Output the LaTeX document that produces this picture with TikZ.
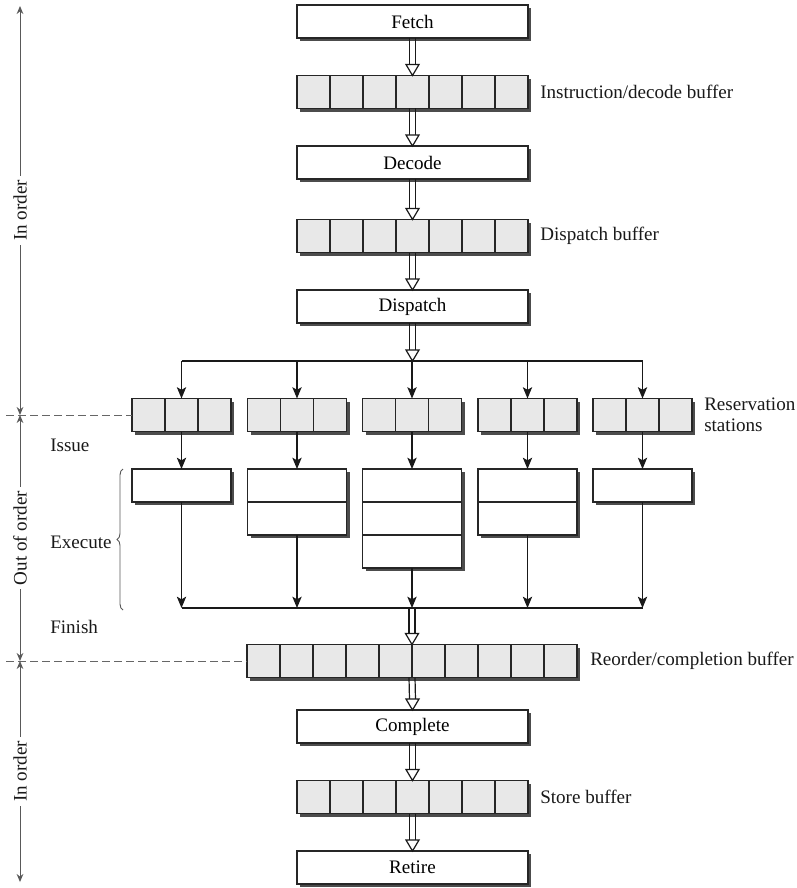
\documentclass[tikz,border=0pt]{standalone}
\usepackage{fontspec}
\setmainfont{Liberation Serif}
\usetikzlibrary{arrows.meta,calc,shadows,decorations.pathreplacing}

% one drawing unit
\newcommand\pxu{0.75pt}

% vertical cell dividers of a buffer node: \cellsplit{node}{cells}
\newcommand\cellsplit[2]{%
  \pgfmathtruncatemacro\lastcut{#2-1}%
  \foreach \k in {1,...,\lastcut}{%
    \pgfmathsetmacro\cutpos{\k/#2}%
    \draw[divider] ($(#1.north west)!\cutpos!(#1.north east)$) -- ($(#1.south west)!\cutpos!(#1.south east)$);
  }%
}
% horizontal row dividers of an execution unit: \rowsplit{node}{rows}
\newcommand\rowsplit[2]{%
  \pgfmathtruncatemacro\lastcut{#2-1}%
  \foreach \k in {1,...,\lastcut}{%
    \pgfmathsetmacro\cutpos{\k/#2}%
    \draw[divider] ($(#1.north west)!\cutpos!(#1.south west)$) -- ($(#1.north east)!\cutpos!(#1.south east)$);
  }%
}
% double-shafted arrow with an open head: \hollowarrow{(from)}{(to)}
\newcommand\hollowarrow[2]{%
  \draw[hollowline] ($#1+(-3,0)$) -- ($#2+(-3,-10)$);
  \draw[hollowline] ($#1+(3,0)$) -- ($#2+(3,-10)$);
  \draw[hollowline, fill=white, line join=miter] ($#2+(-6.5,-11)$) -- #2 -- ($#2+(6.5,-11)$) -- cycle;
}

\tikzset{
  unit/.style={draw=black!85, line width=1pt, inner sep=0pt, outer sep=0pt,
    drop shadow={shadow xshift=2.6pt, shadow yshift=-2.6pt, fill=black!70, opacity=1}},
  stage/.style={unit, fill=white, minimum width=231*\pxu, minimum height=33*\pxu},
  buffer/.style={unit, fill=black!9, minimum height=33*\pxu},
  execbox/.style={unit, fill=white, minimum width=99*\pxu},
  divider/.style={draw=black!85, line width=1pt},
  flow/.style={draw=black!90, line width=0.9pt, -{Stealth[length=8.5pt,width=7pt,inset=2pt]}},
  hollowline/.style={draw=black!90, line width=0.9pt},
  phasespan/.style={draw=black!65, line width=0.75pt,
    {Stealth[length=6pt,width=5pt]}-{Stealth[length=6pt,width=5pt]}},
  phaseline/.style={draw=black!60, line width=0.75pt, dash pattern=on 6pt off 3pt},
  lbl/.style={anchor=west, inner sep=0pt, text=black!90},
  phasetext/.style={midway, fill=white, rotate=90, inner sep=3pt, text=black!90},
}

\begin{document}
\begin{tikzpicture}[x=0.75pt, y=-0.75pt, font=\fontsize{14.3pt}{15.8pt}\selectfont]
\useasboundingbox (0,0) rectangle (796,888);

% ---- front end (in order) ----
\node[stage] (fetch) at (412.5,21.5) {Fetch};
\node[buffer, minimum width=231*\pxu] (idb) at (412.5,92) {};
\node[stage] (decode) at (412.5,162.5) {Decode};
\node[buffer, minimum width=231*\pxu] (dsb) at (412.5,236) {};
\node[stage] (dispatch) at (412.5,306.5) {Dispatch};
\cellsplit{idb}{7}
\cellsplit{dsb}{7}

% ---- reservation stations and execution units ----
\foreach \i/\x in {1/181.5, 2/297, 3/412, 4/527.5, 5/642.5}{
  \node[buffer, minimum width=99*\pxu] (rs\i) at (\x,415) {};
  \cellsplit{rs\i}{3}
}
\node[execbox, minimum height=33*\pxu] (ex1) at (181.5,485.5) {};
\node[execbox, minimum height=66*\pxu] (ex2) at (297,502) {};
\node[execbox, minimum height=99*\pxu] (ex3) at (412,518.5) {};
\node[execbox, minimum height=66*\pxu] (ex4) at (527.5,502) {};
\node[execbox, minimum height=33*\pxu] (ex5) at (642.5,485.5) {};
\rowsplit{ex2}{2}
\rowsplit{ex3}{3}
\rowsplit{ex4}{2}

% ---- back end (in order) ----
\node[buffer, minimum width=330*\pxu] (rob) at (412,661) {};
\cellsplit{rob}{10}
\node[stage] (complete) at (412.5,726.5) {Complete};
\node[buffer, minimum width=231*\pxu] (stb) at (412.5,797) {};
\cellsplit{stb}{7}
\node[stage] (retire) at (412.5,867.5) {Retire};

% ---- distribution and collection buses ----
\coordinate (dl) at (181.5,361);
\coordinate (dm) at (412.5,361);
\coordinate (dr) at (642.5,361);
\coordinate (cl) at (181.5,608);
\coordinate (cm) at (412,608);
\coordinate (cr) at (642.5,608);
\draw[hollowline] (dl) -- (dr);
\draw[hollowline] (cl) -- (cr);
\foreach \i in {1,...,5}{
  \draw[flow] (rs\i.north |- dl) -- (rs\i.north);
  \draw[flow] (rs\i.south) -- (ex\i.north);
  \draw[flow] (ex\i.south) -- (ex\i.south |- cl);
}

% ---- stage-to-stage transfers ----
\hollowarrow{(fetch.south)}{(idb.north)}
\hollowarrow{(idb.south)}{(decode.north)}
\hollowarrow{(decode.south)}{(dsb.north)}
\hollowarrow{(dsb.south)}{(dispatch.north)}
\hollowarrow{(dispatch.south)}{(dm)}
\hollowarrow{(cm)}{(rob.north)}
\hollowarrow{(rob.south)}{(complete.north)}
\hollowarrow{(complete.south)}{(stb.north)}
\hollowarrow{(stb.south)}{(retire.north)}

% ---- buffer labels ----
\node[lbl] (idblabel) at ($(idb.east)+(12,0)$) {Instruction/decode buffer};
\node[lbl] (dsblabel) at ($(dsb.east)+(12,0)$) {Dispatch buffer};
\node[lbl, align=left] (rslabel) at ($(rs5.east)+(12,0)$) {Reservation\\stations};
\node[lbl] (roblabel) at ($(rob.east)+(13,0)$) {Reorder/completion buffer};
\node[lbl] (stblabel) at ($(stb.east)+(12,0)$) {Store buffer};

% ---- phase boundaries ----
\coordinate (a0) at (20,6);
\coordinate (a1) at (20,415);
\coordinate (a2) at (20,661);
\coordinate (a3) at (20,882);
\coordinate (s1) at (6,415);
\coordinate (s2) at (6,661);
\draw[phaseline] (s1) -- (rs1.west);
\draw[phaseline] (s2) -- (rob.west);
\draw[phasespan] (a0) -- (a1) node[phasetext] {In order};
\draw[phasespan] (a1) -- (a2) node[phasetext] {Out of order};
\draw[phasespan] (a2) -- (a3) node[phasetext] {In order};

% ---- out-of-order sub-phases ----
\node[lbl] (issue) at (50,445) {Issue};
\node[lbl] (execute) at (50,542) {Execute};
\node[lbl] (finish) at (50,627) {Finish};
\draw[draw=black!65, line width=0.7pt, decorate, decoration={brace, amplitude=4.5pt}] (123,610) -- (123,469);

\end{tikzpicture}
\end{document}
